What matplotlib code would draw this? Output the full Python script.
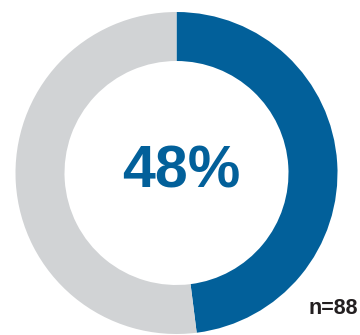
import matplotlib
matplotlib.use("Agg")
import matplotlib.pyplot as plt

share = 48
rest = 100 - share
values = [share, rest]
colors = ["#02609A", "#D1D3D5"]
n_resp = 88

W, H = 360, 335
fig = plt.figure(figsize=(W / 100, H / 100), dpi=100)
ax = fig.add_axes([0, 0, 1, 1])
ax.set_xlim(0, W)
ax.set_ylim(0, H)
ax.set_aspect("equal")
ax.axis("off")

cx, cy = 176.5, H - 173
r_out, r_in = 161, 112
ax.pie(values, colors=colors, startangle=90, counterclock=False,
       center=(cx, cy), radius=r_out,
       wedgeprops=dict(width=r_out - r_in, linewidth=0))
ax.set_xlim(0, W)
ax.set_ylim(0, H)

ax.text(cx + 5, H - 172, f"{share}%", ha="center", va="center",
        fontsize=42.5, fontweight="bold", color="#02609A",
        family="Liberation Sans")
ax.text(358, H - 309, f"n={n_resp}", ha="right", va="center",
        fontsize=15.5, fontweight="bold", color="#231F20",
        family="Liberation Sans")

fig.savefig("out.png", dpi=100)
